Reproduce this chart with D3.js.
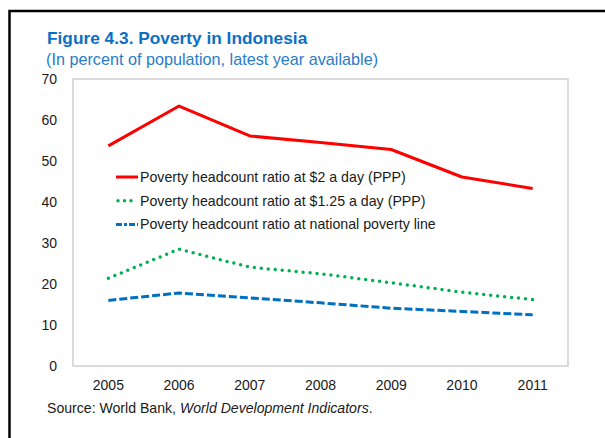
<!DOCTYPE html>
<html>
<head>
<meta charset="utf-8">
<script src="https://cdn.jsdelivr.net/npm/d3@7"></script>
<style>
  body { margin: 0; background: #fff; }
  text { font-family: "Liberation Sans", Arial, sans-serif; }
</style>
</head>
<body>
<div id="stage_id"></div>
<script>
// years on the x axis
var years = ["2005", "2006", "2007", "2008", "2009", "2010", "2011"];
// poverty headcount ratios (percent of population)
var ppp2 = [53.7, 63.4, 56.1, 54.5, 52.8, 46.1, 43.3];
var ppp125 = [21.4, 28.5, 24.1, 22.5, 20.3, 18.0, 16.2];
var national = [16.0, 17.8, 16.6, 15.4, 14.1, 13.3, 12.5];
var yTicks = [0, 10, 20, 30, 40, 50, 60, 70];
var seriesNames = [
  "Poverty headcount ratio at $2 a day (PPP)",
  "Poverty headcount ratio at $1.25 a day (PPP)",
  "Poverty headcount ratio at national poverty line"
];

var W = 605, H = 438;
var margin = {top: 79, right: 37, bottom: 72, left: 73};
var width = W - margin.left - margin.right;
var height = H - margin.top - margin.bottom;

var svg = d3.select("#stage_id").append("svg")
  .attr("width", W).attr("height", H);

// outer frame (top + left edge)
svg.append("path")
  .attr("d", "M9.5,438 V11 H605")
  .attr("fill", "none").attr("stroke", "#000").attr("stroke-width", 2.5);

// titles
svg.append("text").attr("x", 47).attr("y", 44)
  .attr("fill", "#0b6fc4").style("font-weight", "bold").style("font-size", "17.3px")
  .text("Figure 4.3. Poverty in Indonesia");
svg.append("text").attr("x", 46).attr("y", 65)
  .attr("fill", "#2a7cc8").style("font-size", "16.2px")
  .text("(In percent of population, latest year available)");

var g = svg.append("g").attr("transform", "translate(" + margin.left + "," + margin.top + ")");

var x = d3.scaleBand().domain(years).range([0, width]);
var y = d3.scaleLinear().domain([0, 70]).range([height, 0]);

// plot frame
g.append("rect").attr("width", width).attr("height", height)
  .attr("fill", "none").attr("stroke", "#cfcfcf").attr("stroke-width", 1.5);

var yAxis = d3.axisLeft(y).tickValues(yTicks).tickSize(0).tickPadding(16);
var gy = g.append("g").call(yAxis);
gy.select(".domain").remove();
gy.selectAll("text").style("font-size", "14px").attr("fill", "#1a1a1a")
  .style("font-family", "'Liberation Sans', Arial, sans-serif");

var xAxis = d3.axisBottom(x).tickSize(0).tickPadding(14);
var gx = g.append("g").attr("transform", "translate(0," + height + ")").call(xAxis);
gx.select(".domain").remove();
gx.selectAll("text").style("font-size", "14px").attr("fill", "#1a1a1a")
  .style("font-family", "'Liberation Sans', Arial, sans-serif");

var series = [
  {name: seriesNames[0], values: ppp2, color: "#ff0000", dash: null, cap: "butt", w: 3},
  {name: seriesNames[1], values: ppp125, color: "#00b050", dash: "0 7", cap: "round", w: 3.5},
  {name: seriesNames[2], values: national, color: "#0070c0", dash: "8 3", cap: "butt", w: 3}
];

var line = d3.line()
  .x(function(d, i) { return x(years[i]) + x.bandwidth() / 2; })
  .y(function(d) { return y(d); });

series.forEach(function(s) {
  g.append("path").datum(s.values)
    .attr("d", line)
    .attr("fill", "none")
    .attr("stroke", s.color)
    .attr("stroke-width", s.w)
    .attr("stroke-linecap", s.cap)
    .attr("stroke-linejoin", "round")
    .attr("stroke-dasharray", s.dash);
});

// legend
var leg = g.append("g").attr("transform", "translate(43,98)");
series.forEach(function(s, i) {
  var row = leg.append("g").attr("transform", "translate(0," + (i * 23.7) + ")");
  row.append("line").attr("x1", 0).attr("x2", i == 1 ? 18 : 22).attr("y1", 0).attr("y2", 0)
    .attr("stroke", s.color).attr("stroke-width", s.w)
    .attr("stroke-linecap", s.cap)
    .attr("stroke-dasharray", i == 1 ? "0 6.5" : (i == 2 ? "6 2 3 2" : null))
    .attr("transform", i == 1 ? "translate(2,0)" : null);
  row.append("text").attr("x", 24).attr("y", 5)
    .style("font-size", "14.2px").attr("fill", "#1a1a1a")
    .text(s.name);
});

// source
var src = svg.append("text").attr("x", 47).attr("y", 413)
  .style("font-size", "14.1px").attr("fill", "#1a1a1a");
src.append("tspan").text("Source: World Bank, ");
src.append("tspan").style("font-style", "italic").text("World Development Indicators");
src.append("tspan").text(".");
</script>
</body>
</html>
